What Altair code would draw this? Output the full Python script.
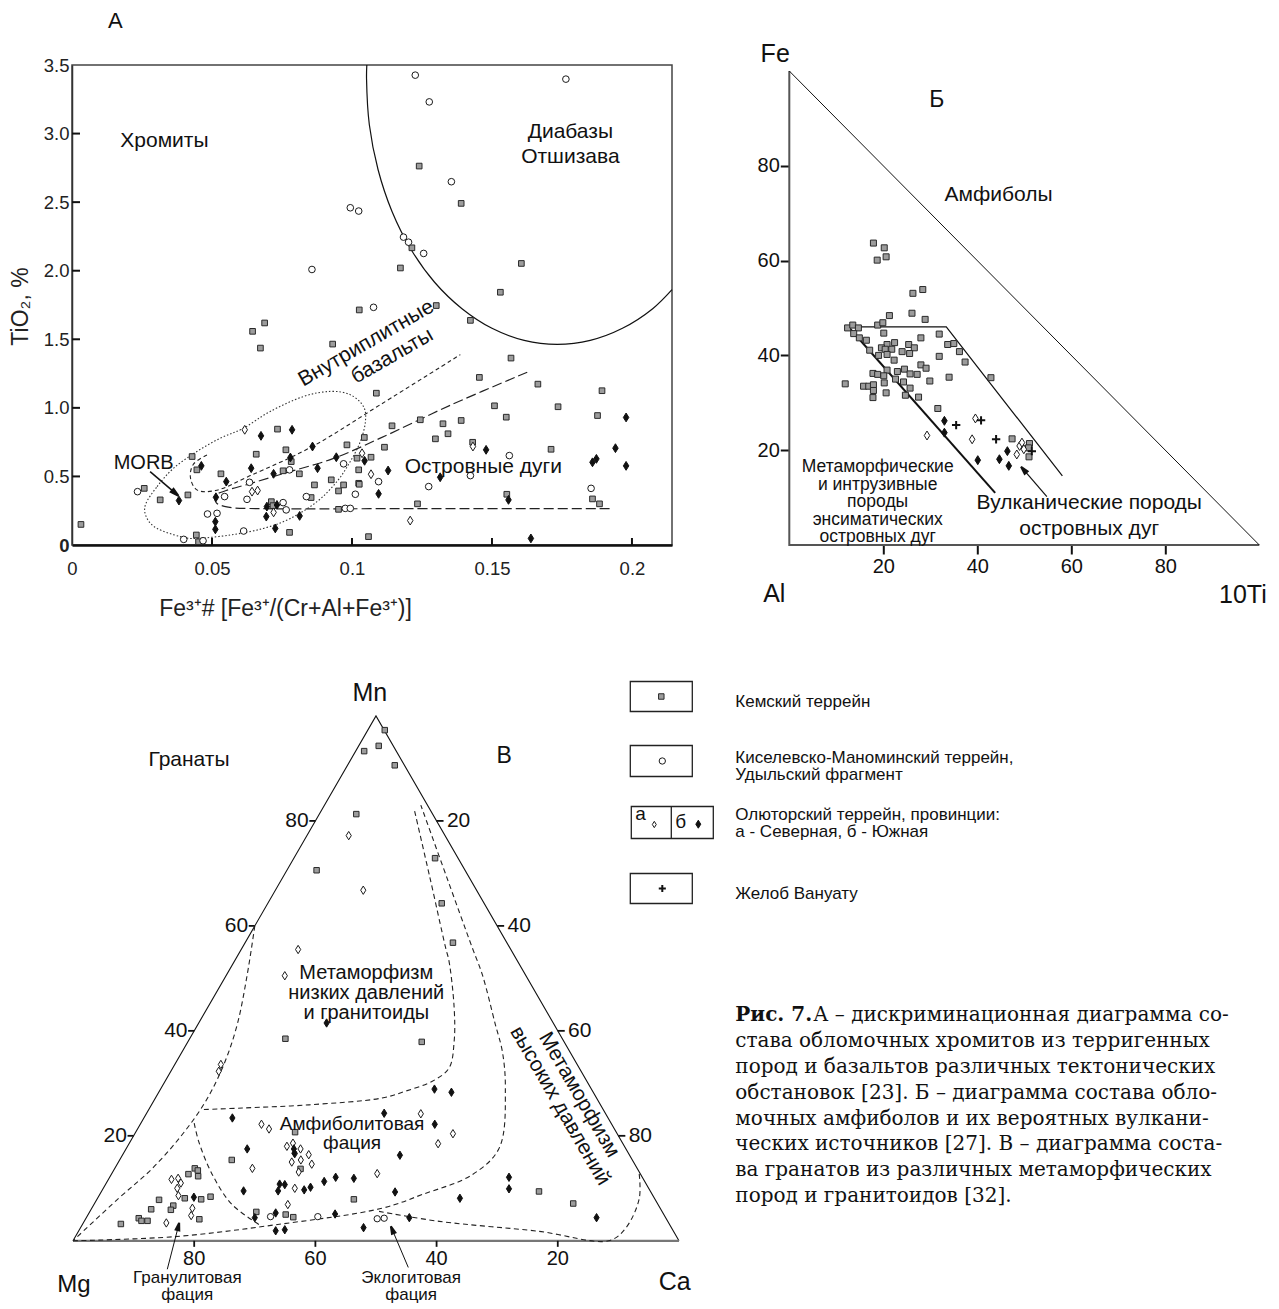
import altair as alt
import pandas as pd

SANS = "Liberation Sans"
SERIF = "DejaVu Serif"
INK = "#111111"

# =====================  Panel A : Fe3+# vs TiO2  =====================
A_kemsky = [
    (0.0032, 0.150), (0.0258, 0.413), (0.0315, 0.329), (0.0414, 0.365), (0.0429, 0.645),
    (0.0446, 0.548), (0.0444, 0.073), (0.0452, 0.024), (0.0532, 0.519), (0.0645, 1.558),
    (0.0688, 1.619), (0.0673, 1.436), (0.0658, 0.662), (0.0734, 0.845), (0.0764, 0.694),
    (0.0783, 0.608), (0.0754, 0.541), (0.0812, 0.519), (0.0866, 0.438), (0.0854, 0.346),
    (0.0926, 0.475), (0.0982, 0.730), (0.0970, 0.438), (0.0952, 0.394), (0.1018, 0.633),
    (0.1024, 0.548), (0.1024, 0.450), (0.0952, 0.260), (0.0712, 0.316), (0.0718, 0.287),
    (0.0777, 0.092), (0.0931, 1.465), (0.1026, 1.714), (0.1173, 2.020), (0.1214, 2.167),
    (0.1240, 2.763), (0.1390, 2.491), (0.1605, 2.053), (0.1530, 1.843), (0.1301, 1.746),
    (0.1423, 1.638), (0.1568, 1.363), (0.1455, 1.222), (0.1664, 1.173), (0.1893, 1.125),
    (0.1087, 1.107), (0.1509, 1.015), (0.1736, 1.008), (0.1551, 0.932), (0.1877, 0.944),
    (0.1244, 0.913), (0.1143, 0.869), (0.1390, 0.908), (0.1325, 0.884), (0.1343, 0.811),
    (0.1298, 0.774), (0.1044, 0.784), (0.1116, 0.713), (0.1431, 0.749), (0.1711, 0.698),
    (0.1068, 0.640), (0.1026, 0.443), (0.1553, 0.370), (0.1234, 0.300), (0.1859, 0.336),
    (0.1884, 0.300), (0.1059, 0.061),
]
A_kiselevsky = [
    (0.0234, 0.389), (0.0399, 0.041), (0.0468, 0.031), (0.0484, 0.226), (0.0518, 0.231),
    (0.0545, 0.353), (0.0634, 0.457), (0.0625, 0.333), (0.0613, 0.102), (0.0754, 0.309),
    (0.0765, 0.256), (0.0777, 0.548), (0.0837, 0.353), (0.0970, 0.592), (0.1012, 0.370),
    (0.0976, 0.267), (0.0994, 0.267), (0.0994, 2.459), (0.1024, 2.435), (0.0857, 2.009),
    (0.1077, 1.733), (0.1226, 3.426), (0.1764, 3.397), (0.1276, 3.231), (0.1355, 2.649),
    (0.1184, 2.245), (0.1202, 2.208), (0.1256, 2.126), (0.1095, 0.462), (0.1274, 0.426),
    (0.1423, 0.506), (0.1562, 0.652), (0.1854, 0.413),
]
A_olyutor_a = [
    (0.0617, 0.840), (0.0643, 0.389), (0.0663, 0.397), (0.0720, 0.238),
    (0.1036, 0.669), (0.1068, 0.516), (0.1432, 0.718), (0.1208, 0.178),
]
A_olyutor_b = [
    (0.0382, 0.324), (0.0462, 0.577), (0.0551, 0.462), (0.0514, 0.348), (0.0512, 0.170),
    (0.0512, 0.114), (0.0640, 0.560), (0.0675, 0.796), (0.0786, 0.840), (0.0720, 0.519),
    (0.0780, 0.638), (0.0696, 0.280), (0.0732, 0.292), (0.0694, 0.207), (0.0726, 0.121),
    (0.0813, 0.212), (0.0859, 0.718), (0.0877, 0.560), (0.0944, 0.640), (0.1045, 0.614),
    (0.1129, 0.543), (0.1095, 0.373), (0.1315, 0.494), (0.1479, 0.694), (0.1559, 0.329),
    (0.1639, 0.048), (0.1859, 0.603), (0.1873, 0.628), (0.1941, 0.706), (0.1979, 0.930),
    (0.1979, 0.577),
]
# field boundaries
A_diabase = [
    (0.1053, 3.500), (0.1052, 3.400), (0.1062, 3.064), (0.1093, 2.738), (0.1143, 2.432),
    (0.1211, 2.155), (0.1295, 1.916), (0.1393, 1.723), (0.1500, 1.580), (0.1615, 1.492),
    (0.1733, 1.463), (0.1851, 1.492), (0.1966, 1.580), (0.2074, 1.723), (0.2143, 1.862),
]
A_within_plate = [
    (0.0482, 0.657), (0.0433, 0.587), (0.0423, 0.492), (0.0446, 0.402), (0.0512, 0.397),
    (0.0637, 0.506), (0.0858, 0.718), (0.1101, 1.023), (0.1387, 1.388),
]
A_island_arc = [
    (0.1626, 1.260), (0.1351, 1.019), (0.1101, 0.779), (0.0932, 0.630), (0.0755, 0.521),
    (0.0637, 0.448), (0.0551, 0.397), (0.0512, 0.360), (0.0515, 0.309), (0.0558, 0.276),
    (0.0673, 0.265), (0.1173, 0.265), (0.1934, 0.265),
]
A_morb = [
    (0.0262, 0.292), (0.0304, 0.426), (0.0363, 0.560), (0.0446, 0.682), (0.0530, 0.779),
    (0.0613, 0.852), (0.0708, 0.974), (0.0827, 1.083), (0.0923, 1.120), (0.0994, 1.096),
    (0.1041, 1.010), (0.1048, 0.901), (0.1030, 0.755), (0.0994, 0.609), (0.0946, 0.462),
    (0.0875, 0.316), (0.0780, 0.194), (0.0684, 0.121), (0.0565, 0.073), (0.0446, 0.048),
    (0.0387, 0.061), (0.0304, 0.121), (0.0268, 0.194),
]
A_xticks = [0.05, 0.1, 0.15, 0.2]
A_yticks = [0.5, 1.0, 1.5, 2.0, 2.5, 3.0]
A_xlabels = [0, 0.05, 0.1, 0.15, 0.2]
A_ylabels = [0, 0.5, 1.0, 1.5, 2.0, 2.5, 3.0, 3.5]

# =====================  Panel Б : Al – Fe – 10Ti  =====================
B_kemsky = [
    (17.9, 63.7), (20.2, 62.7), (18.7, 60.1), (20.6, 60.8), (26.3, 53.1), (28.4, 53.9),
    (26.1, 48.9), (28.9, 47.6), (21.3, 48.4), (12.4, 45.8), (13.5, 46.4), (14.7, 45.8),
    (13.7, 44.6), (14.9, 43.7), (16.4, 43.2), (17.1, 41.1), (18.8, 46.4), (19.9, 46.9),
    (20.1, 44.7), (31.9, 44.5), (33.7, 42.3), (35.0, 42.5), (36.2, 40.8), (37.4, 38.6),
    (28.0, 43.7), (25.4, 42.3), (26.6, 41.6), (24.0, 40.8), (25.6, 40.4), (22.4, 42.7),
    (20.8, 42.3), (19.6, 41.6), (20.4, 41.3), (21.8, 41.3), (20.8, 40.2), (19.0, 40.0),
    (22.3, 39.0), (31.9, 39.8), (28.0, 38.0), (29.1, 37.3), (20.8, 36.9), (17.8, 36.2),
    (18.8, 36.0), (20.1, 35.7), (23.0, 36.6), (24.5, 37.1), (25.7, 36.1), (27.2, 36.0),
    (22.6, 35.0), (24.3, 34.4), (20.2, 34.2), (29.9, 34.6), (34.0, 35.4), (42.9, 35.3),
    (11.9, 34.0), (15.8, 33.5), (16.9, 33.5), (17.9, 33.8), (17.9, 32.6), (20.6, 32.1),
    (25.7, 33.1), (24.7, 31.6), (27.5, 31.2), (17.8, 31.1), (31.6, 28.8), (47.4, 22.4),
    (51.1, 21.4), (50.9, 20.5), (51.0, 18.6),
]
B_olyutor_a = [(29.3, 23.1), (38.9, 22.3), (39.6, 26.7), (49.0, 20.9), (48.4, 19.1), (49.9, 20.2), (49.5, 21.6)]
B_olyutor_b = [(33.0, 26.2), (33.0, 23.7), (40.1, 17.9), (44.7, 18.1), (46.4, 19.8), (46.7, 16.7)]
B_vanuatu = [(35.5, 25.3), (40.8, 26.3), (44.0, 22.3), (51.6, 19.8)]
B_left_line = [(12.6, 46.0), (43.8, 11.0)]
B_right_line = [(12.6, 46.0), (33.4, 46.0), (58.1, 14.6)]
B_ticks = [20, 40, 60, 80]

# =====================  Panel В : Mn – Mg – Ca  (Mn %, Ca %)  =====================
C_kemsky = [
    (93.3, 1.4), (94.3, 3.3), (97.3, 2.8), (81.3, 6.1), (70.6, 4.9), (90.6, 7.8), (72.9, 23.3),
    (64.3, 28.7), (56.8, 34.3), (38.5, 15.8), (37.9, 38.6), (20.7, 26.3), (15.4, 18.5),
    (13.8, 13.2), (12.7, 12.7), (13.4, 13.9), (12.3, 14.5), (13.7, 30.7), (8.1, 14.4),
    (7.9, 17.2), (8.4, 18.5), (7.8, 10.3), (6.7, 13.2), (5.9, 13.2), (6.0, 9.9), (4.1, 18.8),
    (4.3, 8.7), (3.8, 9.4), (3.8, 10.4), (3.2, 6.3), (7.9, 42.4), (5.5, 27.5), (5.0, 32.6),
    (4.5, 34.1), (9.4, 72.2), (7.1, 79.0),
]
C_kiselevsky = [(4.6, 30.3), (4.6, 38.1), (4.2, 48.1), (4.3, 49.2)]
C_olyutor_a = [
    (77.2, 6.9), (66.8, 14.5), (55.5, 9.4), (50.5, 9.7), (33.6, 7.6), (32.3, 7.9), (22.2, 20.0),
    (21.3, 21.7), (18.0, 26.3), (18.6, 27.0), (17.5, 28.8), (16.6, 28.3), (16.4, 30.7),
    (15.0, 28.6), (15.4, 29.9), (14.6, 32.1), (13.1, 30.7), (13.8, 22.7), (10.0, 31.6),
    (6.9, 32.0), (11.7, 10.4), (11.9, 11.4), (11.0, 12.3), (10.0, 12.2), (8.6, 13.1),
    (6.2, 16.6), (4.8, 17.1), (3.4, 13.7), (12.8, 43.8), (24.2, 45.3), (20.4, 52.5), (18.5, 51.0),
]
C_olyutor_b = [
    (41.5, 21.1), (23.4, 14.6), (17.5, 27.7), (16.7, 28.2), (17.5, 20.0), (9.5, 23.4),
    (10.8, 28.7), (10.7, 29.6), (9.5, 29.1), (9.7, 33.3), (10.2, 34.1), (11.3, 35.8),
    (12.1, 37.3), (11.9, 40.4), (8.3, 15.8), (5.3, 30.8), (4.4, 27.8), (5.1, 40.7),
    (1.9, 32.5), (2.1, 33.9), (2.5, 46.7), (28.9, 45.2), (28.3, 48.3), (24.3, 39.2),
    (22.2, 48.6), (16.3, 45.8), (9.3, 48.5), (8.1, 59.8), (4.4, 53.3), (12.1, 65.9),
    (9.9, 67.0), (4.4, 84.2),
]
C_outer = [(60.0, 0.0), (50.7, 3.4), (41.2, 6.5), (33.6, 8.1), (26.6, 8.6), (20.2, 7.9), (13.8, 6.2), (8.1, 3.5), (0.0, 0.0)]
C_low_p = [(25.0, 9.1), (25.3, 15.3), (25.9, 26.0), (27.2, 37.4), (28.5, 40.6), (30.4, 44.1), (32.9, 45.6),
           (38.0, 43.9), (44.4, 40.7), (53.3, 35.4), (55.8, 33.6), (69.2, 24.3), (82.5, 15.0)]
C_amph = [(0.0, 0.0), (0.8, 16.5), (3.05, 31.9), (6.2, 47.9), (8.8, 53.2), (12.6, 59.6), (17.7, 61.5),
          (29.1, 56.8), (36.1, 52.8), (41.2, 49.1), (50.7, 42.2), (55.8, 38.0), (69.2, 27.1), (83.0, 15.9)]
C_granulite = [(22.4, 8.8), (18.9, 11.3), (12.6, 16.7), (6.9, 22.8), (2.7, 29.9)]
C_eclogite = [(5.6, 47.7), (3.7, 58.6), (1.8, 76.0), (0.0, 88.4), (2.4, 90.0), (8.1, 89.4), (13.2, 86.8)]
C_ticks = [20, 40, 60, 80]

# =====================  helpers  =====================
DIAMOND = "M0,-1L0.62,0L0,1L-0.62,0Z"
PLUS = "M-1,0L1,0M0,-1L0,1"
ARROW = "M1,0L-1,-0.5L-1,0.5Z"
NO_FRAME = alt.ViewBackground(stroke="transparent", strokeWidth=0)


def sq(size):
    return dict(shape="square", size=size, filled=True, fill="#9c9c9c", stroke="#2a2a2a", strokeWidth=1, opacity=1)


def ci(size):
    return dict(shape="circle", size=size, filled=True, fill="white", stroke="#1a1a1a", strokeWidth=1, opacity=1)


def od(size):
    return dict(shape=DIAMOND, size=size, filled=True, fill="white", stroke="#1a1a1a", strokeWidth=1, opacity=1)


def fd(size):
    return dict(shape=DIAMOND, size=size, filled=True, fill="#111111", stroke="#111111", strokeWidth=1, opacity=1)


def pl(size):
    return dict(shape=PLUS, size=size, filled=False, stroke="#111111", strokeWidth=2, opacity=1)


def dxy(pairs):
    d = pd.DataFrame(pairs, columns=["x", "y"])
    d["i"] = range(len(d))
    return d


def dtern(pairs):
    d = pd.DataFrame(pairs, columns=["Mn", "Ca"])
    d["i"] = range(len(d))
    return d


def dtxt(rows):
    return pd.DataFrame(rows, columns=["x", "y", "t"])


# ---------- Panel A encodings ----------
AX_AX = alt.Axis(values=A_xlabels, labelExpr="format(datum.value, '~g')", ticks=False, grid=False,
                 domain=True, domainColor="#111111", domainWidth=2.5, labelFont=SANS, labelFontSize=18.5,
                 labelColor="#222222", labelPadding=14, labelFlush=False, labelOverlap=False,
                 title="Fe³⁺# [Fe³⁺/(Cr+Al+Fe³⁺)]", titleFont=SANS, titleFontSize=23,
                 titleFontWeight="normal", titleColor="#222222", titleX=213, titleY=63,
                 titleAlign="center", titleBaseline="middle")
AX_AY = alt.Axis(values=A_ylabels,
                 labelExpr="datum.value == 0 ? '0' : format(datum.value, '.1f')",
                 labelFontWeight={"condition": {"test": "datum.value == 0", "value": "bold"}, "value": "normal"},
                 ticks=False, grid=False, domain=True, domainColor="#333333", domainWidth=1.5,
                 labelFont=SANS, labelFontSize=18.5, labelColor="#222222", labelPadding=3,
                 labelFlush=False, labelOverlap=False,
                 title="TiO₂, %", titleFont=SANS, titleFontSize=23, titleFontWeight="normal",
                 titleColor="#222222", titleAngle=270, titleX=-52, titleY=241, titleAlign="center",
                 titleBaseline="middle")


def xA():
    return alt.X("x:Q", scale=alt.Scale(domain=[0, 0.2143], nice=False, zero=False), axis=AX_AX)


def yA():
    return alt.Y("y:Q", scale=alt.Scale(domain=[0, 3.5], nice=False, zero=False), axis=AX_AY)


def ptsA(pairs, style):
    return alt.Chart(dxy(pairs)).mark_point(**style).encode(x=xA(), y=yA())


def txtA(rows, **mk):
    base = dict(font=SANS, color=INK, baseline="middle")
    base.update(mk)
    return alt.Chart(dtxt(rows)).mark_text(**base).encode(x=xA(), y=yA(), text="t:N")


A_layers = [
    alt.Chart(dxy(A_diabase)).mark_line(color=INK, strokeWidth=1.2, interpolate="catmull-rom")
    .encode(x=xA(), y=yA(), order="i:Q"),
    alt.Chart(dxy(A_within_plate)).mark_line(color="#222222", strokeWidth=1.1, strokeDash=[4, 3], interpolate="catmull-rom")
    .encode(x=xA(), y=yA(), order="i:Q"),
    alt.Chart(dxy(A_island_arc)).mark_line(color="#222222", strokeWidth=1.2, strokeDash=[10, 4], interpolate="catmull-rom")
    .encode(x=xA(), y=yA(), order="i:Q"),
    alt.Chart(dxy(A_morb)).mark_line(color="#333333", strokeWidth=1.1, strokeDash=[1.5, 2], interpolate="cardinal-closed")
    .encode(x=xA(), y=yA(), order="i:Q"),
    alt.Chart(pd.DataFrame({"y": A_yticks})).mark_rule(color=INK, strokeWidth=2)
    .encode(y=yA(), x=alt.value(0), x2=alt.value(8)),
    alt.Chart(pd.DataFrame({"x": A_xticks})).mark_rule(color=INK, strokeWidth=2)
    .encode(x=xA(), y=alt.value(480), y2=alt.value(473)),
    ptsA(A_kemsky, sq(32)),
    ptsA(A_kiselevsky, ci(44)),
    ptsA(A_olyutor_a, od(78)),
    ptsA(A_olyutor_b, fd(78)),
    txtA([(0.0155, 3.822, "А")], fontSize=22),
    txtA([(0.01725, 2.946, "Хромиты")], fontSize=21, align="left"),
    txtA([(0.178, 3.015, "Диабазы\nОтшизава")], fontSize=21, lineBreak="\n", lineHeight=25),
    txtA([(0.1051, 1.470, "Внутриплитные"), (0.1144, 1.377, "базальты")], fontSize=21, angle=330),
    txtA([(0.1469, 0.572, "Островные дуги")], fontSize=21),
    txtA([(0.0256, 0.596, "MORB")], fontSize=20),
    alt.Chart(dxy([(0.0279, 0.535), (0.0369, 0.378)])).mark_line(color=INK, strokeWidth=1.5)
    .encode(x=xA(), y=yA(), order="i:Q"),
    alt.Chart(dxy([(0.0369, 0.378)])).mark_point(shape=ARROW, size=70, filled=True, fill=INK, stroke=INK,
                                                 opacity=1, angle=41).encode(x=xA(), y=yA()),
]
panel_A = alt.layer(*A_layers).properties(
    width=600, height=480, view=alt.ViewBackground(stroke="#444444", strokeWidth=1.5))

# ---------- Panel Б ----------
AX_BX = alt.Axis(values=B_ticks, domain=False, grid=False, tickSize=9, tickWidth=2, tickColor=INK,
                 labelFont=SANS, labelFontSize=20, labelColor=INK, labelPadding=2, title=None,
                 labelFlush=False, labelOverlap=False)
AX_BY = alt.Axis(values=B_ticks, domain=False, grid=False, tickSize=9, tickWidth=2, tickColor=INK,
                 labelFont=SANS, labelFontSize=20, labelColor=INK, labelPadding=1, title=None,
                 labelFlush=False, labelOverlap=False, offset=-54)


def xB():
    return alt.X("x:Q", scale=alt.Scale(domain=[-11.49, 100], nice=False, zero=False), axis=AX_BX)


def yB():
    return alt.Y("y:Q", scale=alt.Scale(domain=[0, 101.27], nice=False, zero=False), axis=AX_BY)


def ptsB(pairs, style):
    return alt.Chart(dxy(pairs)).mark_point(**style).encode(x=xB(), y=yB())


def txtB(rows, **mk):
    base = dict(font=SANS, color=INK, baseline="middle")
    base.update(mk)
    return alt.Chart(dtxt(rows)).mark_text(**base).encode(x=xB(), y=yB(), text="t:N")


B_layers = [
    alt.Chart(dxy([(0, 100), (0, 0), (100, 0)])).mark_line(color="#555555", strokeWidth=2)
    .encode(x=xB(), y=yB(), order="i:Q"),
    alt.Chart(dxy([(0, 100), (100, 0)])).mark_line(color=INK, strokeWidth=1)
    .encode(x=xB(), y=yB(), order="i:Q"),
    alt.Chart(dxy(B_left_line)).mark_line(color=INK, strokeWidth=2).encode(x=xB(), y=yB(), order="i:Q"),
    alt.Chart(dxy(B_right_line)).mark_line(color=INK, strokeWidth=1.2).encode(x=xB(), y=yB(), order="i:Q"),
    ptsB(B_kemsky, sq(36)),
    ptsB(B_olyutor_a, od(80)),
    ptsB(B_olyutor_b, fd(80)),
    ptsB(B_vanuatu, pl(70)),
    txtB([(-3.0, 103.6, "Fe"), (-3.2, -10.4, "Al"), (96.5, -10.5, "10Ti")], fontSize=25),
    txtB([(31.4, 93.9, "Б")], fontSize=23),
    txtB([(44.5, 73.9, "Амфиболы")], fontSize=21),
    txtB([(18.8, 16.4, "Метаморфические\nи интрузивные\nпороды\nэнсиматических\nостровных дуг")],
         fontSize=17.5, lineBreak="\n", lineHeight=17.5),
    txtB([(63.8, 8.82, "Вулканические породы\nостровных дуг")], fontSize=21, lineBreak="\n", lineHeight=26),
    alt.Chart(dxy([(54.8, 10.2), (49.85, 15.9)])).mark_line(color=INK, strokeWidth=1.2)
    .encode(x=xB(), y=yB(), order="i:Q"),
    alt.Chart(dxy([(49.85, 15.9)])).mark_point(shape=ARROW, size=60, filled=True, fill=INK, stroke=INK,
                                             opacity=1, angle=229).encode(x=xB(), y=yB()),
]
panel_B = alt.layer(*B_layers).properties(width=524, height=480, view=NO_FRAME)

# ---------- Panel В (ternary) ----------
TERN = dict(x="datum.Ca + datum.Mn / 2", y="datum.Mn * 0.8660254")


def xC():
    return alt.X("x:Q", scale=alt.Scale(domain=[-0.165, 98.85], nice=False, zero=False), axis=None)


def yC():
    return alt.Y("y:Q", scale=alt.Scale(domain=[-9.36, 97.24], nice=False, zero=False), axis=None)


def tern(pairs):
    return alt.Chart(dtern(pairs)).transform_calculate(**TERN)


def ptsC(pairs, style):
    return tern(pairs).mark_point(**style).encode(x=xC(), y=yC())


def curveC(pairs):
    return tern(pairs).mark_line(color="#222222", strokeWidth=1.1, strokeDash=[5, 3.5],
                                 interpolate="catmull-rom").encode(x=xC(), y=yC(), order="i:Q")


def txtC(rows, **mk):
    base = dict(font=SANS, color=INK, baseline="middle")
    base.update(mk)
    return alt.Chart(dtxt(rows)).mark_text(**base).encode(x=xC(), y=yC(), text="t:N")


def ticksC(xe, ye, x2e, y2e):
    return (alt.Chart(pd.DataFrame({"v": C_ticks}))
            .transform_calculate(x=xe, y=ye, x2=x2e, y2=y2e)
            .mark_rule(color=INK, strokeWidth=1.8)
            .encode(x=xC(), y=yC(), x2=alt.X2("x2"), y2=alt.Y2("y2")))


def tlabC(xe, ye, **mk):
    base = dict(font=SANS, color=INK, baseline="middle", fontSize=21)
    base.update(mk)
    return (alt.Chart(pd.DataFrame({"v": C_ticks}))
            .transform_calculate(x=xe, y=ye)
            .mark_text(**base).encode(x=xC(), y=yC(), text=alt.Text("v:Q")))


C_layers = [
    tern([(0, 0), (100, 0), (0, 100)]).mark_line(color=INK, strokeWidth=1.1)
    .encode(x=xC(), y=yC(), order="i:Q"),
    tern([(0, 0), (0, 100)]).mark_line(color="#777777", strokeWidth=2.2)
    .encode(x=xC(), y=yC(), order="i:Q"),
    curveC(C_outer), curveC(C_low_p), curveC(C_amph), curveC(C_granulite), curveC(C_eclogite),
    # Mn ticks (left), Ca ticks (right), Mg ticks (bottom)
    ticksC("datum.v / 2", "datum.v * 0.8660254", "datum.v / 2 - 1.0", "datum.v * 0.8660254"),
    ticksC("50 + datum.v / 2", "(100 - datum.v) * 0.8660254", "51.15 + datum.v / 2", "(100 - datum.v) * 0.8660254"),
    ticksC("100 - datum.v", "0", "100 - datum.v", "-1.0"),
    tlabC("datum.v / 2 - 1.1", "datum.v * 0.8660254", align="right"),
    tlabC("51.7 + datum.v / 2", "(100 - datum.v) * 0.8660254", align="left"),
    tlabC("100 - datum.v", "-3.0", align="center", fontSize=20),
    ptsC(C_kemsky, sq(30)),
    ptsC(C_kiselevsky, ci(40)),
    ptsC(C_olyutor_a, od(70)),
    ptsC(C_olyutor_b, fd(70)),
    txtC([(48.98, 90.36, "Mn"), (99.3, -6.72, "Ca")], fontSize=25),
    txtC([(0.165, -7.26, "Mg")], fontSize=24),
    txtC([(71.17, 79.92, "В")], fontSize=23),
    txtC([(19.14, 79.37, "Гранаты")], fontSize=21),
    txtC([(48.4, 44.16, "Метаморфизм\nнизких давлений\nи гранитоиды")], fontSize=20, lineBreak="\n", lineHeight=20),
    txtC([(46.06, 19.24, "Амфиболитовая\nфация")], fontSize=19, lineBreak="\n", lineHeight=19),
    txtC([(83.5, 24.08, "Метаморфизм\nвысоких давлений")], fontSize=21, lineBreak="\n", lineHeight=22, angle=60),
    txtC([(18.86, -6.2, "Гранулитовая\nфация"), (55.8, -6.2, "Эклогитовая\nфация")],
         fontSize=17, lineBreak="\n", lineHeight=17),
    alt.Chart(dxy([(15.56, -4.7), (17.38, 2.36)])).mark_line(color=INK, strokeWidth=1)
    .encode(x=xC(), y=yC(), order="i:Q"),
    alt.Chart(dxy([(55.33, -4.4), (52.69, 1.82)])).mark_line(color=INK, strokeWidth=1)
    .encode(x=xC(), y=yC(), order="i:Q"),
    alt.Chart(pd.DataFrame({"x": [17.38, 52.69], "y": [2.36, 1.82], "a": [283, 248]}))
    .mark_point(shape=ARROW, size=55, filled=True, fill=INK, stroke=INK, opacity=1)
    .encode(x=xC(), y=yC(), angle=alt.Angle("a:Q", scale=None)),
]
panel_C = alt.layer(*C_layers).properties(width=600, height=646, view=NO_FRAME)

# ---------- Legend + caption ----------
LEG_BOXES = [(630, 692, 680, 710), (630, 692, 744, 775), (631, 713, 805, 837), (630, 692, 872, 902)]
LEG_TEXT = [
    (735, 700, "Кемский террейн"),
    (735, 756, "Киселевско-Маноминский террейн,"),
    (735, 773.5, "Удыльский фрагмент"),
    (735, 813, "Олюторский террейн, провинции:"),
    (735, 830.5, "а - Северная, б - Южная"),
    (735, 892, "Желоб Вануату"),
]
CAPTION = [
    (813, 1013, "А – дискриминационная диаграмма со-"),
    (735, 1039, "става обломочных хромитов из терригенных"),
    (735, 1065, "пород и базальтов различных тектонических"),
    (735, 1091, "обстановок [23]. Б – диаграмма состава обло-"),
    (735, 1117, "мочных амфиболов и их вероятных вулкани-"),
    (735, 1142, "ческих источников [27]. В – диаграмма соста-"),
    (735, 1168, "ва гранатов из различных метаморфических"),
    (735, 1194, "пород и гранитоидов [32]."),
]


def xL():
    return alt.X("x:Q", scale=alt.Scale(domain=[735, 1268], nice=False, zero=False), axis=None)


def yL():
    return alt.Y("y:Q", scale=alt.Scale(domain=[650, 1296], nice=False, zero=False, reverse=True), axis=None)


def txtL(rows, **mk):
    base = dict(font=SANS, color=INK, baseline="middle", align="left")
    base.update(mk)
    return alt.Chart(dtxt(rows)).mark_text(**base).encode(x=xL(), y=yL(), text="t:N")


def ptsL(pairs, style):
    return alt.Chart(dxy(pairs)).mark_point(**style).encode(x=xL(), y=yL())


L_layers = [
    alt.Chart(pd.DataFrame(LEG_BOXES, columns=["x", "x2", "y", "y2"]))
    .mark_rect(fill="white", stroke="#222222", strokeWidth=1.3)
    .encode(x=xL(), x2=alt.X2("x2"), y=yL(), y2=alt.Y2("y2")),
    alt.Chart(pd.DataFrame({"x": [671], "y": [805], "y2": [837]})).mark_rule(color="#222222", strokeWidth=1.3)
    .encode(x=xL(), y=yL(), y2=alt.Y2("y2")),
    ptsL([(661, 695)], sq(30)),
    ptsL([(662, 759.5)], ci(40)),
    ptsL([(654, 823)], od(40)),
    ptsL([(698, 822.7)], fd(64)),
    ptsL([(662, 887)], pl(50)),
    txtL([(635, 812, "а"), (675, 820, "б")], fontSize=19),
    txtL(LEG_TEXT, fontSize=17),
    txtL([(735, 1013, "Рис. 7.")], font=SERIF, fontSize=20, fontWeight="bold"),
    txtL(CAPTION, font=SERIF, fontSize=20, clip=True),
]
panel_L = alt.layer(*L_layers).properties(width=533, height=646, view=NO_FRAME)

chart = (
    alt.concat(panel_A, panel_B, panel_C, panel_L, columns=2,
               spacing={"row": 106.5, "column": 63.3}, bounds="flush")
    .properties(padding={"left": 0, "top": 1, "right": 0, "bottom": 0})
    .configure_view(stroke="transparent")
    .configure(background="white")
)

chart.save("out.html", embed_options={"renderer": "svg", "actions": False})
